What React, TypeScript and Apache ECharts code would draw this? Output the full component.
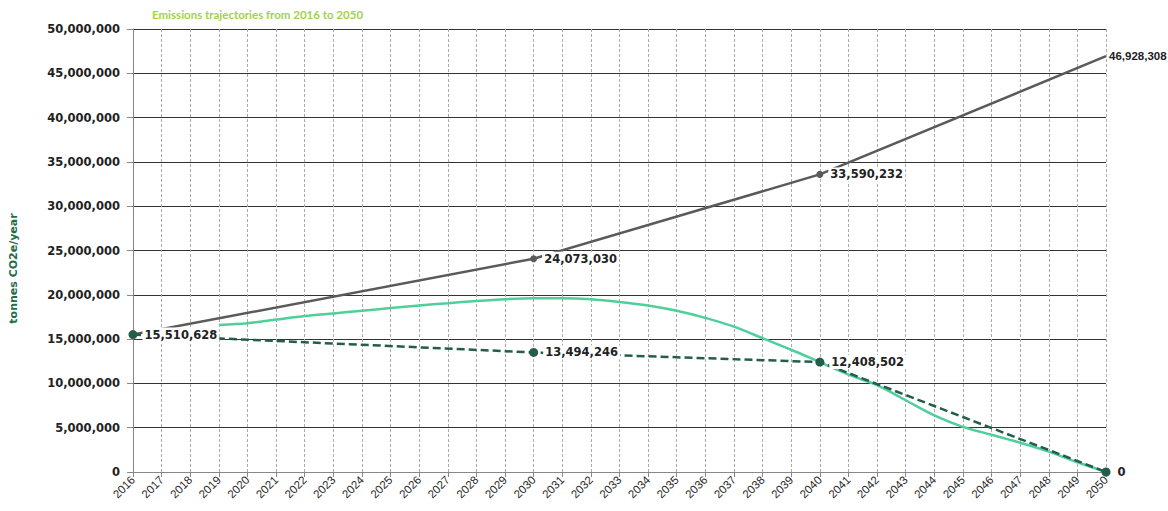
import React, { useEffect, useRef } from "react";
import * as echarts from "echarts";

const years: string[] = [];
for (let y = 2016; y <= 2050; y++) years.push(String(y));

const bauYears = ["2016", "2030", "2040", "2050"];
const bauValues = [15510628, 24073030, 33590232, 46928308];
const bauLabels = ["", "24,073,030", "33,590,232", "46,928,308"];

const targetYears = ["2016", "2030", "2040", "2050"];
const targetValues = [15510628, 13494246, 12408502, 0];
const targetLabels = ["15,510,628", "13,494,246", "12,408,502", "0"];

const pathYears = [
  "2019", "2020", "2021", "2022", "2023", "2024", "2025", "2026", "2027", "2028",
  "2029", "2030", "2031", "2032", "2033", "2034", "2035", "2036", "2037", "2038",
  "2039", "2040", "2041", "2042", "2043", "2044", "2045", "2046", "2047", "2048",
  "2049", "2050",
];
const pathValues = [
  16600000, 16800000, 17200000, 17600000, 17900000, 18200000, 18500000, 18800000, 19050000, 19300000,
  19500000, 19600000, 19600000, 19500000, 19200000, 18800000, 18200000, 17400000, 16400000, 15100000,
  13800000, 12400000, 11000000, 9800000, 8100000, 6400000, 5100000, 4200000, 3300000, 2300000,
  1100000, 0,
];

const yTicks = { min: 0, max: 50000000, interval: 5000000 };

const fmt = (v: number) => v.toLocaleString("en-US");

export default function App() {
  const ref = useRef<HTMLDivElement>(null);
  useEffect(() => {
    if (!ref.current) return;
    const chart = echarts.init(ref.current, null, { renderer: "svg" });
    const labelStyle = {
      show: true,
      position: "right" as const,
      distance: 5,
      color: "#222",
      fontFamily: "DejaVu Sans",
      fontWeight: "bold" as const,
      fontSize: 11.5,
      backgroundColor: "#ffffff",
      padding: [1, 2],
    };
    const edgeLabel = {
      ...labelStyle,
      distance: 3,
      padding: 0,
      fontFamily: "Liberation Sans",
      fontSize: 11.5,
    };
    chart.setOption({
      animation: false,
      backgroundColor: "#ffffff",
      title: {
        text: "Emissions trajectories from 2016 to 2050",
        left: 147,
        top: 3,
        textStyle: { color: "#9fd34a", fontSize: 11.5, fontWeight: "bold", fontFamily: "Lato" },
      },
      grid: { left: 126, right: 62, top: 29, bottom: 39, containLabel: false },
      xAxis: {
        type: "category",
        data: years,
        boundaryGap: false,
        axisLine: { show: true, lineStyle: { color: "#888", width: 1 } },
        axisTick: { show: true, alignWithLabel: true, lineStyle: { color: "#888" } },
        axisLabel: {
          rotate: 45,
          interval: 0,
          color: "#2a2a2a",
          fontSize: 11.5,
          fontFamily: "Liberation Sans",
          margin: 6,
        },
        splitLine: { show: true, lineStyle: { color: "#aaa", type: [3, 2], width: 1 } },
      },
      yAxis: {
        type: "value",
        min: yTicks.min,
        max: yTicks.max,
        interval: yTicks.interval,
        name: "tonnes CO2e/year",
        nameLocation: "middle",
        nameGap: 114,
        nameTextStyle: {
          color: "#1f6b4e",
          fontWeight: "bold",
          fontSize: 11,
          fontFamily: "DejaVu Sans",
          padding: [0, 36, 0, 0],
        },
        axisLine: { show: true, lineStyle: { color: "#888" } },
        axisTick: { show: true, length: 6, lineStyle: { color: "#888" } },
        axisLabel: {
          formatter: (v: number) => fmt(v),
          color: "#222",
          fontWeight: "bold",
          fontSize: 11.5,
          fontFamily: "DejaVu Sans",
          margin: 13,
        },
        splitLine: { show: true, lineStyle: { color: "#333", width: 1 } },
      },
      series: [
        {
          name: "Business as usual",
          type: "line",
          z: 2,
          data: bauYears.map((y, i) => ({
            value: [y, bauValues[i]],
            symbol: "circle",
            symbolSize: i === 1 || i === 2 ? 7 : 0.1,
            label:
              i === 3
                ? { ...edgeLabel, formatter: bauLabels[i] }
                : { ...labelStyle, show: bauLabels[i] !== "", formatter: bauLabels[i] },
          })),
          lineStyle: { color: "#5a5a5a", width: 2.5 },
          itemStyle: { color: "#5a5a5a" },
        },
        {
          name: "Pathway",
          type: "line",
          z: 3,
          data: pathYears.map((y, i) => [y, pathValues[i]]),
          symbol: "none",
          smooth: 0.3,
          lineStyle: { color: "#4fcf9a", width: 2.5 },
          itemStyle: { color: "#4fcf9a" },
        },
        {
          name: "Target",
          type: "line",
          z: 4,
          data: targetYears.map((y, i) => ({
            value: [y, targetValues[i]],
            label: { ...labelStyle, formatter: targetLabels[i] },
          })),
          symbol: "circle",
          symbolSize: 9,
          lineStyle: { color: "#245e4b", width: 2.5, type: [8, 4] },
          itemStyle: { color: "#245e4b" },
        },
      ],
    });
    return () => chart.dispose();
  }, []);
  return (
    <div
      ref={ref}
      style={{ position: "absolute", left: 0, top: 0, width: 1168, height: 511 }}
    />
  );
}
